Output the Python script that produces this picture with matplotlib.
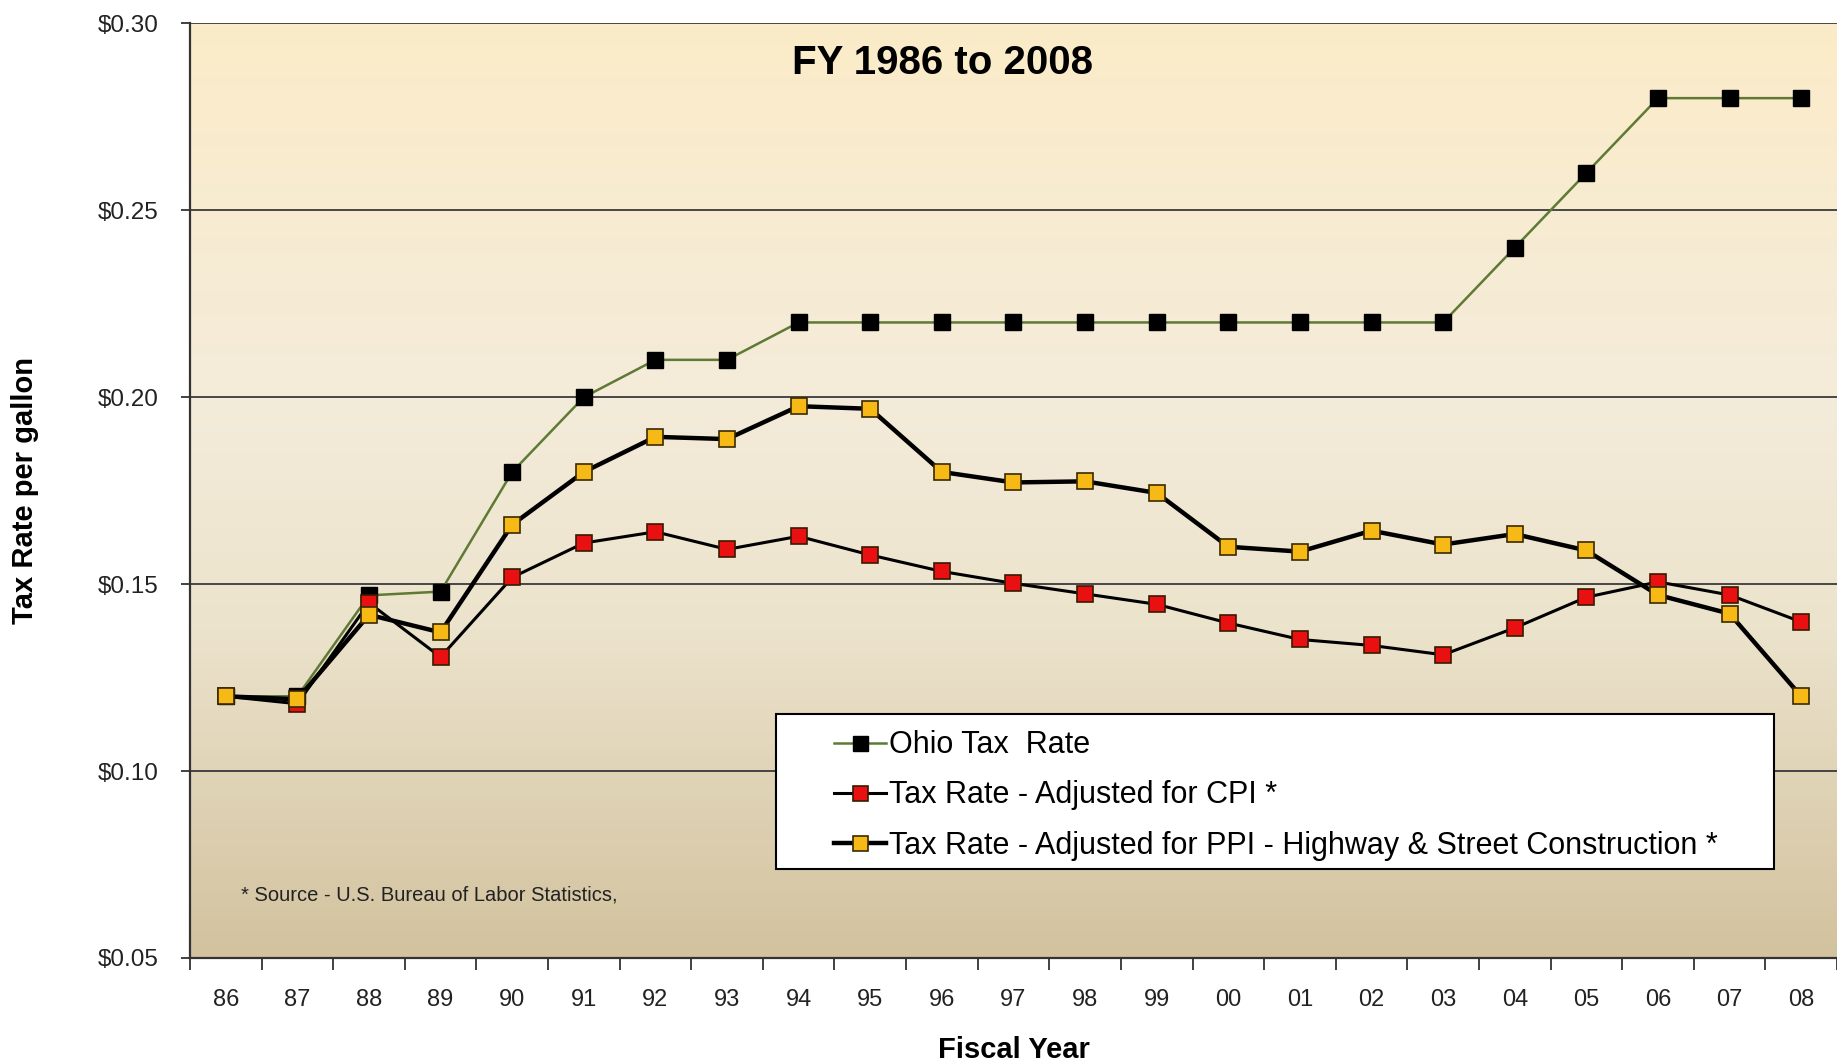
""" Ohio gas tax rate vs inflation-adjusted rates, FY 1986 to 2008 """
import numpy as np
import matplotlib
matplotlib.use("Agg")
import matplotlib.pyplot as plt
from matplotlib.colors import LinearSegmentedColormap
from matplotlib.patches import Rectangle
from matplotlib.ticker import FuncFormatter

years = ["86", "87", "88", "89", "90", "91", "92", "93", "94", "95", "96", "97",
         "98", "99", "00", "01", "02", "03", "04", "05", "06", "07", "08"]

ohio_rate = [0.120, 0.120, 0.147, 0.148, 0.180, 0.200, 0.210, 0.210, 0.220, 0.220, 0.220, 0.220,
             0.220, 0.220, 0.220, 0.220, 0.220, 0.220, 0.240, 0.260, 0.280, 0.280, 0.280]

cpi_rate = [0.120, 0.118, 0.145, 0.1305, 0.1518, 0.161, 0.164, 0.1593, 0.1628, 0.1578, 0.1534, 0.1502,
            0.1474, 0.1446, 0.1396, 0.1352, 0.1336, 0.1311, 0.1383, 0.1465, 0.1506, 0.1471, 0.1399]

ppi_rate = [0.120, 0.1192, 0.1418, 0.1371, 0.1659, 0.180, 0.1894, 0.1888, 0.1976, 0.1969, 0.180, 0.1772,
            0.1775, 0.1744, 0.160, 0.1587, 0.1643, 0.1606, 0.1634, 0.159, 0.1471, 0.1421, 0.120]

plt.rcParams["font.family"] = ["Liberation Sans", "DejaVu Sans"]

fig = plt.figure(figsize=(18.37, 10.63), dpi=100)
ax = fig.add_axes([0.1034, 0.0988, 0.8966, 0.8792])

x = np.arange(len(years))
ax.set_xlim(-0.5, len(years) - 0.5)
ax.set_ylim(0.05, 0.30)

# gradient background like the old Excel chart
bg = LinearSegmentedColormap.from_list(
    "bg", [(0.0, "#D2C29E"), (0.35, "#ECE3CC"), (0.6, "#F4ECDA"), (1.0, "#FBEBC8")])
grad = np.linspace(0, 1, 256).reshape(-1, 1)
ax.imshow(grad, cmap=bg, origin="lower", aspect="auto",
          extent=[-0.5, len(years) - 0.5, 0.05, 0.30], zorder=0)

for yv in [0.10, 0.15, 0.20, 0.25, 0.30]:
    ax.axhline(yv, color="#3a3a3a", lw=1.3, zorder=1)

ax.plot(x, ohio_rate, color="#5E7A34", lw=1.8, marker="s", ms=12,
        mfc="black", mec="black", label="Ohio Tax  Rate", zorder=3)
ax.plot(x, cpi_rate, color="black", lw=2.2, marker="s", ms=12,
        mfc="#E81010", mec="#3a1a00", mew=1.2, label="Tax Rate - Adjusted for CPI *", zorder=4)
ax.plot(x, ppi_rate, color="black", lw=3.2, marker="s", ms=12,
        mfc="#F7B916", mec="#3a2a00", mew=1.2,
        label="Tax Rate - Adjusted for PPI - Highway & Street Construction *", zorder=5)

# ticks
ax.set_xticks(np.arange(-0.5, len(years), 1))
ax.set_xticklabels([])
ax.set_xticks(x, minor=True)
ax.set_xticklabels(years, minor=True, fontsize=17, color="#222222")
ax.tick_params(axis="x", which="major", length=8.5, width=1.3, color="#333333")
ax.tick_params(axis="x", which="minor", length=0, pad=22)
ax.set_yticks([0.05, 0.10, 0.15, 0.20, 0.25, 0.30])
ax.yaxis.set_major_formatter(FuncFormatter(lambda v, p: "${:.2f}".format(v)))
ax.tick_params(axis="y", length=6.5, width=1.3, color="#333333", labelsize=17.5,
               labelcolor="#222222", pad=16)

for s in ["top", "right"]:
    ax.spines[s].set_visible(False)
ax.spines["left"].set_linewidth(1.6)
ax.spines["left"].set_color("#333333")
ax.spines["bottom"].set_linewidth(1.6)
ax.spines["bottom"].set_color("#333333")

ax.set_xlabel("Fiscal Year", fontsize=21, fontweight="bold", labelpad=18)
ax.set_ylabel("Tax Rate per gallon", fontsize=21, fontweight="bold")
ax.yaxis.set_label_coords(-0.0917, 0.5)

ax.text(0.457, 0.958, "FY 1986 to 2008", transform=ax.transAxes, fontsize=29,
        fontweight="bold", ha="center", va="center")
ax.text(0.031, 0.067, "* Source - U.S. Bureau of Labor Statistics,", transform=ax.transAxes,
        fontsize=14.5, color="#222222", ha="left", va="center")

# legend box drawn by hand so the padding matches the original
ax.add_patch(Rectangle((0.356, 0.095), 0.606, 0.166, transform=ax.transAxes,
                       facecolor="white", edgecolor="black", lw=1.5, zorder=6))
leg = ax.legend(loc="upper left", bbox_to_anchor=(0.382, 0.260), frameon=False,
                fontsize=22, handlelength=1.7, handletextpad=0.1, borderpad=0,
                labelspacing=0.66, markerscale=0.9)
leg.set_zorder(7)

plt.savefig("out.png", dpi=100)
